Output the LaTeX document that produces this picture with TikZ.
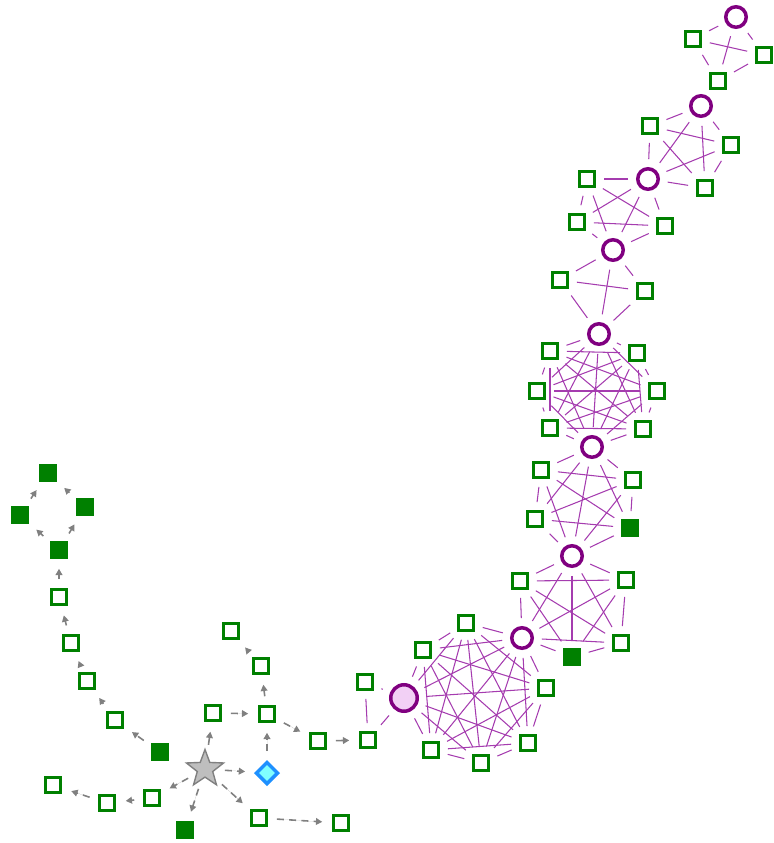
\documentclass[tikz,border=0pt]{standalone}
\usepackage{tikz}
\usetikzlibrary{arrows.meta,shapes.geometric,backgrounds}
\definecolor{nodegreen}{RGB}{0,128,0}
\definecolor{hubpurple}{RGB}{128,0,128}
\definecolor{linkpurple}{RGB}{165,60,175}
\definecolor{pinkfill}{RGB}{242,208,245}
\definecolor{starfill}{RGB}{190,190,190}
\definecolor{starline}{RGB}{128,128,128}
\definecolor{gemfill}{RGB}{128,255,255}
\definecolor{gemline}{RGB}{30,144,255}

\begin{document}
\begin{tikzpicture}[x=0.02cm, y=-0.02cm,
    sq/.style={draw=nodegreen, fill=white, rectangle, line width=1.5pt, minimum size=0.31cm, inner sep=0pt},
    sqfull/.style={sq, fill=nodegreen},
    hub/.style={draw=hubpurple, fill=white, circle, line width=2pt, minimum size=0.41cm, inner sep=0pt},
    bighub/.style={hub, fill=pinkfill, minimum size=0.53cm},
    root/.style={draw=starline, fill=starfill, star, star points=5, star point ratio=2.4, line width=0.8pt, minimum size=0.78cm, inner sep=0pt},
    gem/.style={draw=gemline, fill=gemfill, diamond, line width=2pt, minimum size=0.45cm, inner sep=0pt},
    flow/.style={-{Triangle[length=3.6pt, width=3.8pt]}, draw=starline, fill=starline, line width=0.9pt, dash pattern=on 4pt off 3pt, shorten <=5pt, shorten >=5.5pt},
    link/.style={draw=linkpurple, line width=0.6pt, shorten <=4.5pt, shorten >=4.5pt}
]
\useasboundingbox (0,0) rectangle (774,843);

% tree part
\node[root] (s) at (205,769) {};
\node[gem] (d) at (267,773) {};
\node[sqfull] (f1) at (160,752) {};
\node[sq] (a1) at (115,720) {};
\node[sq] (a2) at (87,681) {};
\node[sq] (a3) at (71,643) {};
\node[sq] (a4) at (59,597) {};
\node[sqfull] (f2) at (59,550) {};
\node[sqfull] (f3) at (20,515) {};
\node[sqfull] (f4) at (85,507) {};
\node[sqfull] (f5) at (48,473) {};
\node[sq] (b1) at (152,798) {};
\node[sq] (b2) at (107,803) {};
\node[sq] (b3) at (53,785) {};
\node[sqfull] (f6) at (185,830) {};
\node[sq] (c1) at (259,818) {};
\node[sq] (c2) at (341,823) {};
\node[sq] (e1) at (213,713) {};
\node[sq] (e2) at (267,714) {};
\node[sq] (e3) at (261,666) {};
\node[sq] (e4) at (231,631) {};
\node[sq] (e5) at (318,741) {};
\node[sq] (e6) at (368,740) {};
\node[sq] (e7) at (365,682) {};

% clusters
\node[bighub] (p) at (404,698) {};
\node[sq] (h1) at (423,650) {};
\node[sq] (h2) at (466,623) {};
\node[hub] (k8) at (522,638) {};
\node[sq] (h3) at (546,688) {};
\node[sq] (h4) at (528,743) {};
\node[sq] (h5) at (481,763) {};
\node[sq] (h6) at (431,750) {};

\node[hub] (k7) at (572,556) {};
\node[sq] (g1) at (520,581) {};
\node[sq] (g2) at (626,580) {};
\node[sq] (g3) at (621,643) {};
\node[sqfull] (g4) at (572,657) {};

\node[hub] (k6) at (592,447) {};
\node[sq] (q1) at (541,470) {};
\node[sq] (q2) at (633,480) {};
\node[sq] (q3) at (535,519) {};
\node[sqfull] (q4) at (630,528) {};

\node[hub] (k5) at (599,334) {};
\node[sq] (r1) at (550,351) {};
\node[sq] (r2) at (637,353) {};
\node[sq] (r3) at (537,391) {};
\node[sq] (r4) at (657,391) {};
\node[sq] (r5) at (550,428) {};
\node[sq] (r6) at (643,429) {};

\node[hub] (k4) at (613,250) {};
\node[sq] (t1) at (560,280) {};
\node[sq] (t2) at (645,291) {};

\node[hub] (k3) at (648,179) {};
\node[sq] (u1) at (587,179) {};
\node[sq] (u2) at (577,222) {};
\node[sq] (u3) at (665,226) {};

\node[hub] (k2) at (701,106) {};
\node[sq] (v1) at (650,126) {};
\node[sq] (v2) at (731,145) {};
\node[sq] (v3) at (705,188) {};

\node[hub] (k1) at (736,17) {};
\node[sq] (w1) at (693,39) {};
\node[sq] (w2) at (764,55) {};
\node[sq] (w3) at (718,81) {};

\begin{scope}[on background layer]
\foreach \x/\y in {f1/a1, a1/a2, a2/a3, a3/a4, a4/f2, f2/f3, f2/f4, f3/f5, f4/f5,
    s/b1, b1/b2, b2/b3, s/f6, s/c1, c1/c2, s/d, s/e1, e1/e2, d/e2,
    e2/e3, e3/e4, e2/e5, e5/e6}
  \draw[flow] (\x) -- (\y);

\foreach \grp in {{p,e7,e6}, {p,h1,h2,k8,h3,h4,h5,h6}, {k8,k7,g1,g2,g3,g4},
    {k7,k6,q1,q2,q3,q4}, {k6,k5,r1,r2,r3,r4,r5,r6}, {k5,k4,t1,t2},
    {k4,k3,u1,u2,u3}, {k3,k2,v1,v2,v3}, {k1,w1,w2,w3}, {w3,k2}}
  \foreach \a [count=\i] in \grp
    \foreach \b [count=\j] in \grp
      {\ifnum\j>\i \draw[link] (\a) -- (\b); \fi}
\end{scope}
\end{tikzpicture}
\end{document}
